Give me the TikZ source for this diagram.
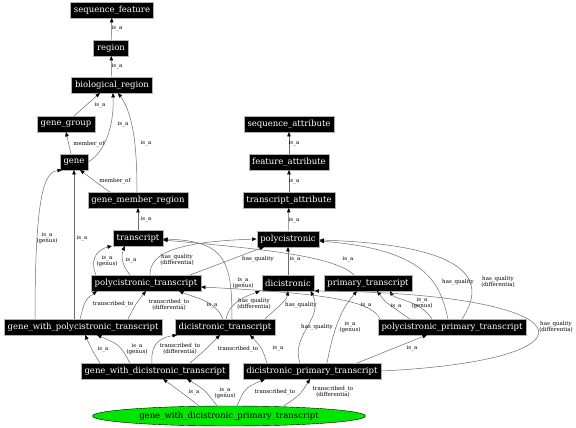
\documentclass[tikz,border=0pt]{standalone}
\usepackage{fontspec}
\setmainfont{DejaVu Serif}
\usetikzlibrary{arrows.meta, shapes.geometric}

\begin{document}
\begin{tikzpicture}[x=1pt, y=-1pt,
      box/.style={draw=gray!60, fill=black, text=white, inner xsep=3.5pt, inner ysep=0pt, minimum height=15.5pt, font=\fontsize{8.5}{10}\selectfont},
      leaf/.style={ellipse, draw=black, fill={rgb,255:red,0;green,230;blue,0}, text=black, inner sep=0pt, minimum width=273pt, minimum height=20pt, font=\fontsize{8.5}{10}\selectfont},
      arr/.style={-{Triangle[length=4.5pt, width=3.5pt, color=black]}, draw=gray!85!black, line width=0.5pt},
      lbl/.style={font=\fontsize{5.5}{5}\selectfont, align=center, inner sep=0pt}]
      \useasboundingbox[fill=white] (0,0) rectangle (576,428);
      \node[box]  (sf)    at (112,10)  {sequence\_feature};
      \node[box]  (reg)   at (111,48)  {region};
      \node[box]  (bio)   at (112,85)  {biological\_region};
      \node[box]  (gg)    at (66,124)  {gene\_group};
      \node[box]  (gene)  at (74,162)  {gene};
      \node[box]  (gmr)   at (138,200) {gene\_member\_region};
      \node[box]  (tr)    at (138,238) {transcript};
      \node[box]  (sa)    at (289,124) {sequence\_attribute};
      \node[box]  (fa)    at (289,162) {feature\_attribute};
      \node[box]  (ta)    at (289,200) {transcript\_attribute};
      \node[box]  (poly)  at (288,239) {polycistronic};
      \node[box]  (pt)    at (146,283) {polycistronic\_transcript};
      \node[box]  (dic)   at (288,283) {dicistronic};
      \node[box]  (prim)  at (368,283) {primary\_transcript};
      \node[box]  (gwpt)  at (83,327)  {gene\_with\_polycistronic\_transcript};
      \node[box]  (dt)    at (225,327) {dicistronic\_transcript};
      \node[box]  (ppt)   at (452,327) {polycistronic\_primary\_transcript};
      \node[box]  (gwdt)  at (155,371) {gene\_with\_dicistronic\_transcript};
      \node[box]  (dpt)   at (312,371) {dicistronic\_primary\_transcript};
      \node[leaf] (gwdpt) at (229,416) {gene\_with\_dicistronic\_primary\_transcript};
      \draw[arr] (reg) -- (sf) node[lbl] at (117,28) {is\_a};
      \draw[arr] (bio) -- (reg) node[lbl] at (117,66) {is\_a};
      \draw[arr] ([xshift=8pt]gg.north) -- ([xshift=-12pt]bio.south) node[lbl] at (100,105) {is\_a};
      \draw[arr] ([xshift=-3pt]gene.north) -- (gg.south) node[lbl] at (89,144) {member\_of};
      \draw[arr] (gene.east) .. controls (108,150) and (114,120) .. ([xshift=1pt]bio.south) node[lbl] at (123,124) {is\_a};
      \draw[arr] ([xshift=-1pt]gmr.north) .. controls (137,150) and (134,115) .. ([xshift=6pt]bio.south) node[lbl] at (146,143) {is\_a};
      \draw[arr] ([xshift=-28pt]gmr.north) .. controls (100,185) .. ([xshift=6pt]gene.south) node[lbl] at (115,181) {member\_of};
      \draw[arr] (tr) -- (gmr) node[lbl] at (146,219) {is\_a};
      \draw[arr] (fa) -- (sa) node[lbl] at (294,143) {is\_a};
      \draw[arr] (ta) -- (fa) node[lbl] at (294,181) {is\_a};
      \draw[arr] (poly) -- (ta) node[lbl] at (294,220) {is\_a};
      \draw[arr] ([xshift=-50pt]pt.north) .. controls (90,262) and (95,250) .. ([xshift=-26pt]tr.south) node[lbl] at (107,261) {is\_a\\(genus)};
      \draw[arr] ([xshift=-16pt]pt.north) .. controls (121,264) and (121,255) .. ([xshift=-13pt]tr.south) node[lbl] at (131,260) {is\_a};
      \draw[arr] ([xshift=4pt]pt.north) .. controls (150,255) and (170,242) .. (poly.west) node[lbl] at (177,260) {has\_quality\\(differentia)};
      \draw[arr] ([xshift=44pt]pt.north) -- ([xshift=-24pt]poly.south) node[lbl] at (258,259) {has\_quality};
      \draw[arr] (dic) -- (poly) node[lbl] at (295,259) {is\_a};
      \draw[arr] ([xshift=-14pt]prim.north) .. controls (335,255) and (250,248) .. ([yshift=-2pt]tr.east) node[lbl] at (348,259) {is\_a};
      \draw[arr] ([xshift=7pt]dt.north) .. controls (232,260) and (225,241) .. ([yshift=-1pt]tr.east) node[lbl] at (243,283) {is\_a\\(genus)};
      \draw[arr] ([xshift=10pt]ppt.north) .. controls (488,280) and (470,245) .. ([yshift=-1pt]poly.east) node[lbl] at (498,282) {has\_quality\\(differentia)};
      \draw[arr] ([xshift=-4pt]ppt.north) .. controls (440,285) and (430,250) .. ([yshift=-2pt]poly.east) node[lbl] at (458,282) {has\_quality};
      \draw[arr] ([xshift=-2pt]dt.north) .. controls (215,300) and (195,298) .. ([xshift=33pt]pt.south) node[lbl] at (212,305) {is\_a};
      \draw[arr] ([xshift=1pt]dt.north) .. controls (230,300) and (250,295) .. ([xshift=-28pt]dic.south) node[lbl] at (254,304) {has\_quality\\(differentia)};
      \draw[arr] ([xshift=40pt]dt.north) .. controls (280,305) and (287,300) .. (dic.south) node[lbl] at (301,305) {has\_quality};
      \draw[arr] ([xshift=-72pt]ppt.north) .. controls (372,300) and (320,293) .. ([yshift=-4pt]pt.east) node[lbl] at (366,305) {is\_a};
      \draw[arr] ([xshift=-42pt]ppt.north) .. controls (385,302) .. ([xshift=9pt]prim.south) node[lbl] at (396,306) {is\_a};
      \draw[arr] ([xshift=-20pt]ppt.north) .. controls (420,300) and (395,300) .. ([xshift=22pt]prim.south) node[lbl] at (422,303) {is\_a\\(genus)};
      \draw[arr] ([xshift=-12pt]dpt.north) .. controls (290,335) and (325,318) .. ([xshift=-4pt]dic.south east) node[lbl] at (317,327) {has\_quality};
      \draw[arr] ([xshift=15pt]dpt.north) .. controls (335,320) and (345,305) .. ([xshift=-11pt]prim.south) node[lbl] at (350,327) {is\_a\\(genus)};
      \draw[arr] ([xshift=45pt]dpt.north) -- ([xshift=-25pt]ppt.south) node[lbl] at (412,348) {is\_a};
      \draw[arr] (dpt.east) .. controls (610,360) and (590,293) .. (dic.south east) node[lbl] at (556,327) {has\_quality\\(differentia)};
      \draw[arr] ([xshift=-45pt]dpt.north) .. controls (262,348) .. ([xshift=25pt]dt.south) node[lbl] at (278,348) {is\_a};
      \draw[arr] ([xshift=-48pt]gwpt.north) .. controls (35,190) and (45,172) .. ([xshift=-12pt]gene.south) node[lbl] at (47,238) {is\_a\\(genus)};
      \draw[arr] ([xshift=-9pt]gwpt.north) -- (gene.south) node[lbl] at (82,238) {is\_a};
      \draw[arr] ([xshift=-3pt]gwpt.north) .. controls (85,300) .. ([xshift=-49pt]pt.south) node[lbl] at (113,304) {transcribed\_to};
      \draw[arr] ([xshift=45pt]gwpt.north) .. controls (135,305) .. (pt.south) node[lbl] at (169,305) {transcribed\_to\\(differentia)};
      \draw[arr] ([xshift=-55pt]gwdt.north) .. controls (92,350) .. ([xshift=2pt]gwpt.south) node[lbl] at (103,349) {is\_a};
      \draw[arr] ([xshift=-25pt]gwdt.north) .. controls (120,345) .. ([xshift=14pt]gwpt.south) node[lbl] at (137,349) {is\_a\\(genus)};
      \draw[arr] ([xshift=-3pt]gwdt.north) .. controls (150,340) and (165,337) .. ([xshift=-48pt]dt.south) node[lbl] at (180,349) {transcribed\_to\\(differentia)};
      \draw[arr] ([xshift=35pt]gwdt.north) .. controls (205,350) .. ([xshift=-5pt]dt.south) node[lbl] at (238,349) {transcribed\_to};
      \draw[arr] ([xshift=-30pt]gwdpt.north) .. controls (185,395) .. ([xshift=8pt]gwdt.south) node[lbl] at (194,392) {is\_a};
      \draw[arr] ([xshift=-12pt]gwdpt.north) .. controls (205,390) .. ([xshift=32pt]gwdt.south) node[lbl] at (225,393) {is\_a\\(genus)};
      \draw[arr] ([xshift=8pt]gwdpt.north) .. controls (245,388) .. ([xshift=-47pt]dpt.south) node[lbl] at (275,392) {transcribed\_to};
      \draw[arr] ([xshift=55pt]gwdpt.north) .. controls (300,395) .. ([xshift=-2pt]dpt.south) node[lbl] at (333,392) {transcribed\_to\\(differentia)};
    \end{tikzpicture}
\end{document}
